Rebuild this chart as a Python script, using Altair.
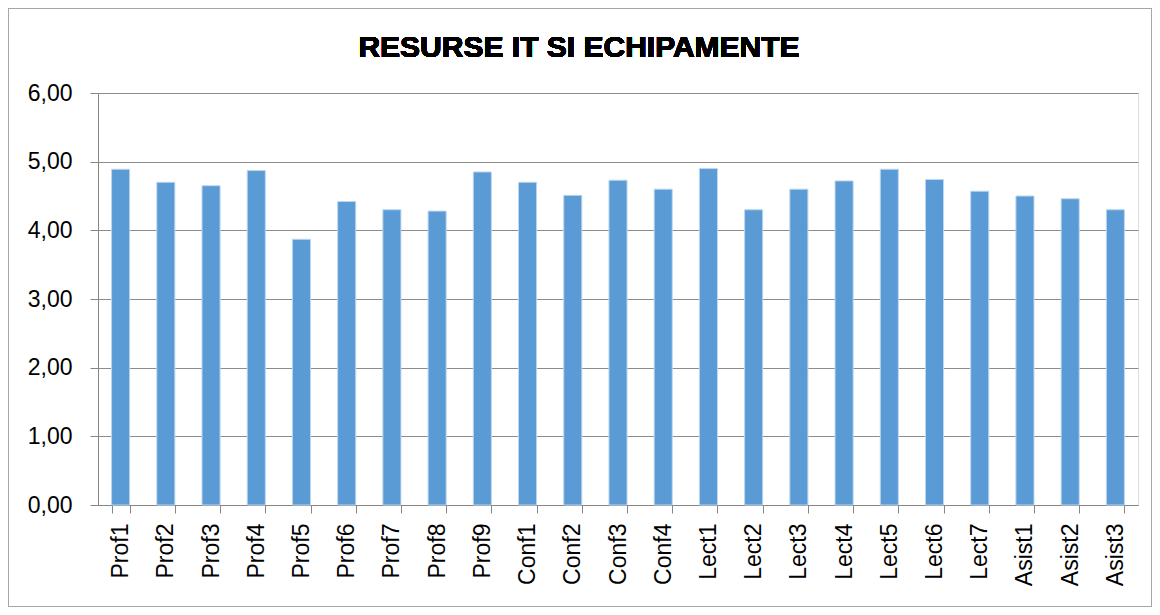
import altair as alt
import pandas as pd

categories = ["Prof1", "Prof2", "Prof3", "Prof4", "Prof5", "Prof6", "Prof7", "Prof8", "Prof9",
              "Conf1", "Conf2", "Conf3", "Conf4",
              "Lect1", "Lect2", "Lect3", "Lect4", "Lect5", "Lect6", "Lect7",
              "Asist1", "Asist2", "Asist3"]
values = [4.89, 4.70, 4.65, 4.87, 3.87, 4.42, 4.30, 4.28, 4.85,
          4.70, 4.51, 4.73, 4.60,
          4.90, 4.30, 4.60, 4.72, 4.89, 4.74, 4.57,
          4.50, 4.46, 4.30]
title_text = "RESURSE IT SI ECHIPAMENTE"

df = pd.DataFrame({"cat": categories, "val": values})

W, H = 1040, 412
PL, PT, PR, PB = 90, 85, 14, 102
FONT = "Liberation Sans"

bars = alt.Chart(df).mark_bar(color="#5b9bd5", stroke="#bdd7ee", strokeWidth=1).encode(
    x=alt.X("cat:N", sort=categories, title=None,
            scale=alt.Scale(paddingInner=0.6, paddingOuter=0.3),
            axis=alt.Axis(labelAngle=-90, labelFontSize=23, labelFont=FONT, labelColor="#000000",
                          labelPadding=10, tickBand="extent", tickSize=8, tickColor="#868686",
                          domainColor="#868686", grid=False, labelBaseline="middle", labelAlign="right")),
    y=alt.Y("val:Q", title=None,
            scale=alt.Scale(domain=[0, 6]),
            axis=alt.Axis(values=[0, 1, 2, 3, 4, 5, 6], labelExpr="replace(format(datum.value, '.2f'), '.', ',')",
                          labelFontSize=23, labelFont=FONT, labelColor="#000000", labelPadding=18,
                          tickSize=8, tickColor="#868686", domainColor="#868686",
                          grid=True, gridColor="#8c8c8c", gridWidth=1)),
)

border = alt.Chart(df).mark_rect(fill=None, stroke="#a6a6a6", strokeWidth=1).encode(
    x=alt.value(-PL + 0.5), x2=alt.value(W + PR - 0.5),
    y=alt.value(-PT + 0.5), y2=alt.value(H + PB - 0.5),
)

title = alt.Chart(df).mark_text(fontSize=30, fontWeight="bold", font=FONT, color="#000000",
                                align="center", baseline="alphabetic").encode(
    x=alt.value(481), y=alt.value(-36), text=alt.value(title_text)
)

chart = alt.layer(bars, title, border).properties(
    width=W, height=H, padding={"left": PL, "top": PT, "right": PR, "bottom": PB},
    autosize=alt.AutoSizeParams(type="none"),
).configure_view(stroke=None).configure(background="#ffffff")

chart.save("out.html", embed_options={"renderer": "svg", "actions": False})
